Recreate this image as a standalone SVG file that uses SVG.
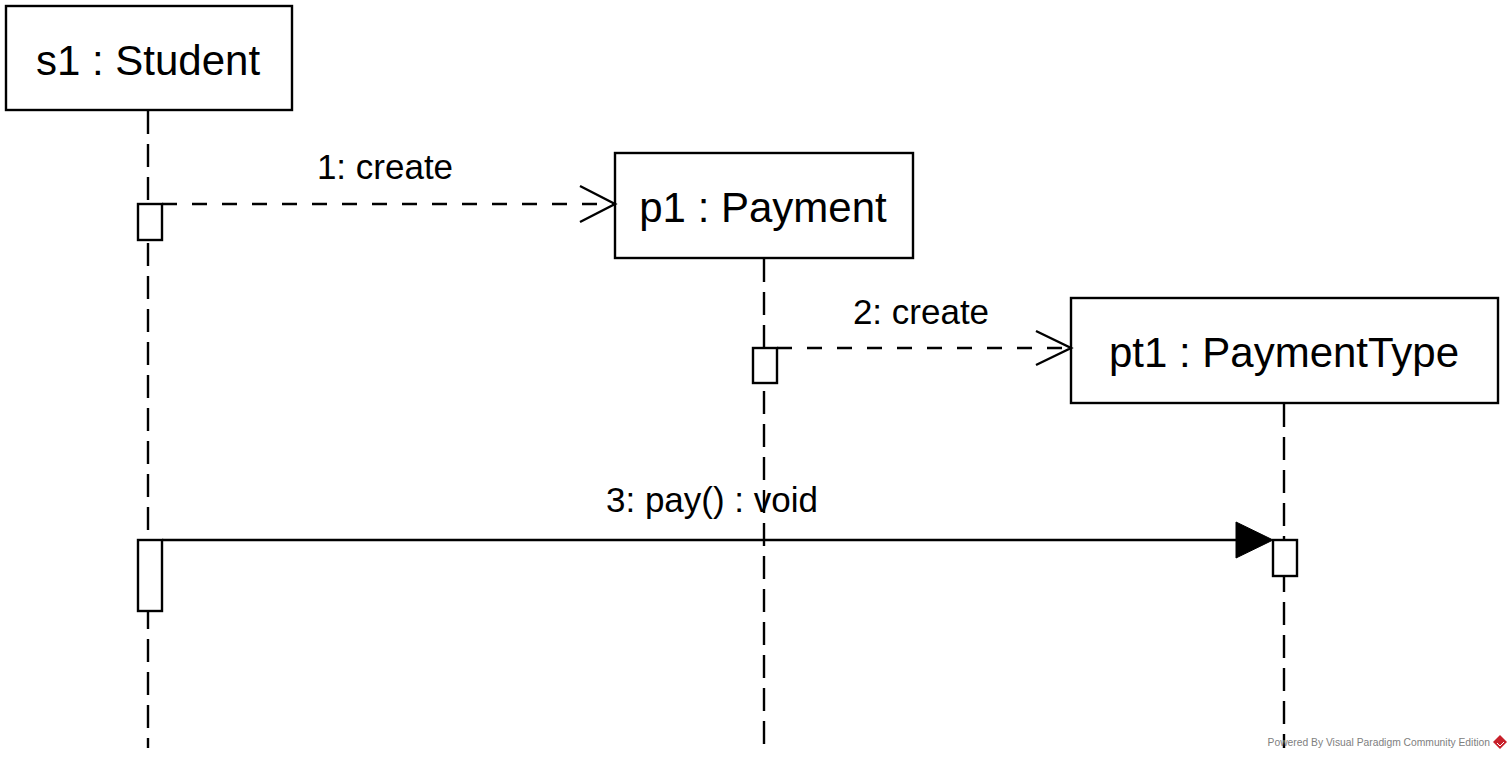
<svg xmlns="http://www.w3.org/2000/svg" width="1512" height="759" viewBox="0 0 1512 759">
  <defs>
    <style>
      .box { fill: #ffffff; stroke: #000000; stroke-width: 2.4; }
      .name { font-family: "Liberation Sans", Arial, sans-serif; font-size: 42px; fill: #000000; text-anchor: middle; }
      .label { font-family: "Liberation Sans", Arial, sans-serif; font-size: 35px; fill: #000000; text-anchor: middle; }
      .life { stroke: #000000; stroke-width: 2.4; stroke-dasharray: 23 10; fill: none; }
      .act { fill: #ffffff; stroke: #000000; stroke-width: 2.4; }
      .dash { stroke: #000000; stroke-width: 2.4; stroke-dasharray: 15 15; fill: none; }
      .solid { stroke: #000000; stroke-width: 2.4; fill: none; }
      .open { stroke: #000000; stroke-width: 2.4; fill: none; }
      .footer { font-family: "Liberation Sans", Arial, sans-serif; font-size: 10.3px; fill: #808080; text-anchor: end; }
    </style>
  </defs>
  <rect width="1512" height="759" fill="#ffffff"/>

  <g id="lifelines">
    <line class="life" x1="148" y1="111" x2="148" y2="748"/>
    <line class="life" x1="764" y1="259" x2="764" y2="745"/>
    <line class="life" x1="1284" y1="404" x2="1284" y2="748"/>
  </g>

  <g id="s1">
    <rect class="box" x="6" y="6" width="286" height="104"/>
    <text class="name" x="148" y="75">s1 : Student</text>
  </g>
  <g id="p1">
    <rect class="box" x="615" y="153" width="298" height="105"/>
    <text class="name" x="763" y="222">p1 : Payment</text>
  </g>
  <g id="pt1">
    <rect class="box" x="1071" y="298" width="427" height="105"/>
    <text class="name" x="1284" y="367">pt1 : PaymentType</text>
  </g>

  <g id="activations">
    <rect class="act" x="138" y="204" width="24" height="36"/>
    <rect class="act" x="753" y="348" width="24" height="35"/>
    <rect class="act" x="138" y="540" width="24" height="71"/>
    <rect class="act" x="1273" y="540" width="24" height="36"/>
  </g>

  <g id="connectors">
    <g id="m1">
      <line class="dash" x1="162" y1="204" x2="614" y2="204"/>
      <polyline class="open" points="580,186 615,204 580,222"/>
      <text class="label" x="385" y="179">1: create</text>
    </g>
    <g id="m2">
      <line class="dash" x1="777" y1="348" x2="1070" y2="348"/>
      <polyline class="open" points="1036,331 1071,348 1036,365"/>
      <text class="label" x="921" y="324">2: create</text>
    </g>
    <g id="m3">
      <line class="solid" x1="162" y1="540" x2="1240" y2="540"/>
      <polygon points="1236,522 1273,540 1236,558" fill="#000000" stroke="#000000" stroke-width="1"/>
      <text class="label" x="712" y="512">3: pay() : void</text>
    </g>
  </g>

  <g id="footer">
    <text class="footer" x="1490" y="746">Powered By Visual Paradigm Community Edition</text>
    <g transform="translate(1500,742)">
      <polygon points="0,-7 7,0 0,7 -7,0" fill="#c8202a"/>
      <polyline points="-3,1 0,4 4,0" fill="none" stroke="#ffffff" stroke-width="1"/>
    </g>
  </g>
</svg>
